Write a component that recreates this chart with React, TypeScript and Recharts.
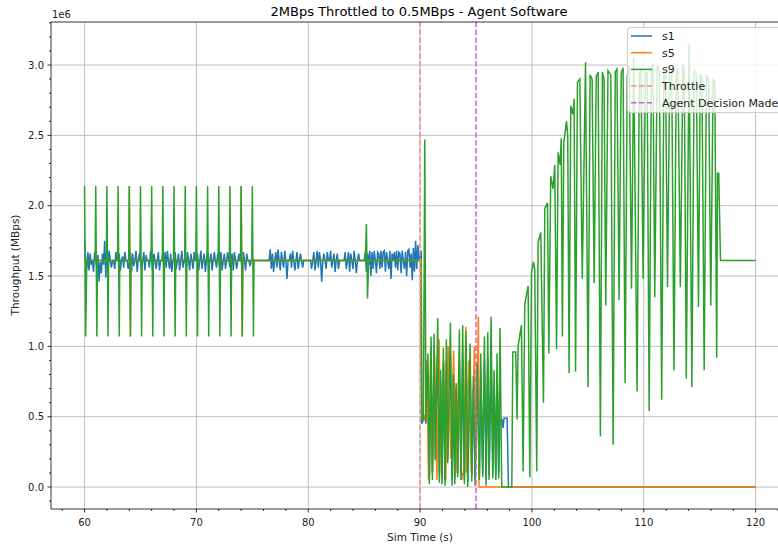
import { Line, LineChart, ReferenceLine, XAxis, YAxis } from "recharts";

// values are in units of 1e6 (axis offset label "1e6")
const xTicks = [58, 60, 62, 64, 66, 68, 70, 72, 74, 76, 78, 80, 82, 84, 86, 88, 90, 92, 94, 96, 98, 100, 102, 104, 106, 108, 110, 112, 114, 116, 118, 120, 122];
const yTicks = [-0.1, 0, 0.1, 0.2, 0.3, 0.4, 0.5, 0.6, 0.7, 0.8, 0.9, 1.0, 1.1, 1.2, 1.3, 1.4, 1.5, 1.6, 1.7, 1.8, 1.9, 2.0, 2.1, 2.2, 2.3, 2.4, 2.5, 2.6, 2.7, 2.8, 2.9, 3.0, 3.1, 3.2, 3.3];
const xMajor = [60, 70, 80, 90, 100, 110, 120];
const yMajor = [0, 0.5, 1.0, 1.5, 2.0, 2.5, 3.0];

const throttleAt = 90;
const agentAt = 95;

// s1: noisy samples every 0.1 s
const s1NoiseA = [
  1.76, 1.61, 1.55, 1.67, 1.54, 1.66, 1.58, 1.61, 1.53, 1.67,
  1.61, 1.56, 1.65, 1.46, 1.6, 1.52, 1.66, 1.58, 1.75, 1.49,
  1.72, 1.55, 1.68, 1.61, 1.56, 1.61, 1.61, 1.55, 1.67, 1.61,
  1.61, 1.66, 1.54, 1.61, 1.64, 1.56, 1.67, 1.61, 1.61, 1.55,
  1.61, 1.67, 1.53, 1.66, 1.57, 1.61, 1.68, 1.53, 1.61, 1.66,
  1.61, 1.55, 1.61, 1.67, 1.54, 1.65, 1.61, 1.61, 1.56, 1.68,
  1.61, 1.53, 1.66, 1.61, 1.55, 1.61, 1.67, 1.54, 1.61, 1.61,
  1.66, 1.54, 1.67, 1.56, 1.68, 1.61, 1.55, 1.66, 1.53, 1.61,
  1.61, 1.67, 1.55, 1.61, 1.66, 1.54, 1.61, 1.68, 1.56, 1.61,
  1.61, 1.56, 1.67, 1.61, 1.54, 1.66, 1.61, 1.55, 1.67, 1.61,
  1.61, 1.66, 1.54, 1.61, 1.68, 1.55, 1.61, 1.66, 1.53, 1.61,
  1.67, 1.55, 1.61, 1.66, 1.54, 1.61, 1.67, 1.61, 1.56, 1.66,
  1.61, 1.55, 1.67, 1.54, 1.61, 1.66, 1.55, 1.61, 1.67, 1.61,
  1.56, 1.61, 1.66, 1.54, 1.67, 1.61, 1.55, 1.61, 1.66, 1.61,
  1.61, 1.55, 1.67, 1.61, 1.54, 1.66, 1.61, 1.61, 1.57, 1.61, 1.61,
];
const s1NoiseB = [
  1.61, 1.69, 1.55, 1.66, 1.53, 1.61, 1.67, 1.56, 1.69, 1.61,
  1.54, 1.67, 1.61, 1.56, 1.68, 1.61, 1.48, 1.61, 1.61, 1.66,
  1.56, 1.68, 1.61, 1.54, 1.61, 1.67, 1.55, 1.61, 1.66, 1.61,
  1.56, 1.61, 1.61, 1.61, 1.61, 1.61, 1.61, 1.61, 1.55, 1.61,
  1.67, 1.54, 1.61, 1.68, 1.56, 1.67, 1.61, 1.46, 1.61, 1.66,
  1.61, 1.55, 1.67, 1.61, 1.61, 1.68, 1.56, 1.61, 1.66, 1.53,
  1.61, 1.66, 1.55, 1.61, 1.61, 1.61, 1.61, 1.61, 1.67, 1.55,
  1.61, 1.67, 1.53, 1.66, 1.61, 1.55, 1.68, 1.61, 1.52, 1.61,
  1.66, 1.61, 1.61, 1.61, 1.61, 1.61, 1.67, 1.53, 1.66, 1.58,
  1.68, 1.5, 1.67, 1.55, 1.68, 1.61, 1.52, 1.67, 1.66, 1.55,
  1.68, 1.56, 1.67, 1.68, 1.53, 1.67, 1.61, 1.55, 1.68, 1.48,
  1.66, 1.61, 1.67, 1.56, 1.68, 1.54, 1.67, 1.66, 1.52, 1.68,
  1.61, 1.55, 1.67, 1.5, 1.68, 1.69, 1.56, 1.66, 1.47, 1.7,
  1.53, 1.75, 1.55, 1.72, 1.61, 1.65,
];
const s1After: [number, number][] = [
  [90.1, 1.68], [90.15, 0.45], [90.3, 0.48], [90.42, 0.5], [90.52, 0.45],
  [90.7, 0.82], [90.83, 0.08], [90.98, 0.9], [91.1, 0.1], [91.25, 0.85], [91.37, 0.2],
  [91.58, 0.95], [91.72, 0.08], [91.84, 0.75], [91.96, 0.06], [92.08, 0.88], [92.23, 0.05],
  [92.35, 0.9], [92.47, 0.2], [92.71, 0.95], [92.86, 0.05], [92.98, 0.72], [93.1, 0.06],
  [93.22, 0.7], [93.36, 0.1], [93.51, 0.9], [93.66, 0.08], [93.81, 0.92], [93.96, 0.05],
  [94.11, 0.9], [94.26, 0.04], [94.47, 0.88], [94.62, 0.08], [94.77, 0.7], [94.92, 0.05],
  [95.1, 0.78], [95.3, 0.08], [95.42, 0.82], [95.6, 0.1], [95.75, 0.9], [95.9, 0.05],
  [96.05, 0.92], [96.17, 0.08], [96.35, 0.95], [96.5, 0.1], [96.62, 0.72], [96.77, 0.08],
  [96.88, 0.8], [97.03, 0.1], [97.15, 0.48], [97.3, 0.48], [97.42, 0.42], [97.5, 0.49],
  [97.78, 0.49], [97.9, 0], [120, 0],
];

const s5Raw: [number, number][] = [
  [60, 1.61], [63.95, 1.61], [64, 2.14], [64.1, 1.07], [64.15, 1.61],
  [73.95, 1.61], [74, 2.14], [74.1, 1.07], [74.15, 1.61], [90.1, 1.61],
  [90.15, 0.47], [90.3, 0.52], [90.5, 0.48], [90.6, 0.9], [90.75, 0.05], [90.95, 1.0],
  [91.1, 0.1], [91.3, 0.95], [91.5, 0.05], [91.7, 1.05], [91.9, 0.1], [92.1, 0.9],
  [92.3, 0.05], [92.5, 1.0], [92.75, 0.2], [93.0, 0.97], [93.2, 0.1], [93.45, 0.85],
  [93.7, 0.05], [93.93, 0.13], [94.08, 1.14], [94.12, 0.1], [94.35, 0.9], [94.6, 0.1],
  [94.85, 1.0], [95.0, 0.2], [95.21, 1.21], [95.27, 0], [120, 0],
];

const s9Raw: [number, number][] = [
  [60.0, 2.14], [60.1, 1.07], [60.2, 1.61],
  [60.95, 1.61], [61.0, 2.14], [61.1, 1.07], [61.15, 1.61],
  [61.95, 1.61], [62.0, 2.14], [62.1, 1.07], [62.15, 1.61],
  [62.95, 1.61], [63.0, 2.14], [63.1, 1.07], [63.15, 1.61],
  [63.95, 1.61], [64.0, 2.14], [64.1, 1.07], [64.15, 1.61],
  [64.95, 1.61], [65.0, 2.14], [65.1, 1.07], [65.15, 1.61],
  [65.95, 1.61], [66.0, 2.14], [66.1, 1.07], [66.15, 1.61],
  [66.95, 1.61], [67.0, 2.14], [67.1, 1.07], [67.15, 1.61],
  [67.95, 1.61], [68.0, 2.14], [68.1, 1.07], [68.15, 1.61],
  [68.95, 1.61], [69.0, 2.14], [69.1, 1.07], [69.15, 1.61],
  [69.95, 1.61], [70.0, 2.14], [70.1, 1.07], [70.15, 1.61],
  [70.95, 1.61], [71.0, 2.14], [71.1, 1.07], [71.15, 1.61],
  [71.95, 1.61], [72.0, 2.14], [72.1, 1.07], [72.15, 1.61],
  [72.95, 1.61], [73.0, 2.14], [73.1, 1.07], [73.15, 1.61],
  [73.95, 1.61], [74.0, 2.14], [74.1, 1.07], [74.15, 1.61],
  [74.95, 1.61], [75.0, 2.14], [75.1, 1.07], [75.15, 1.61],
  [85.1, 1.61], [85.2, 1.87], [85.3, 1.34], [85.4, 1.61],
  [90.05, 1.61], [90.15, 0.47], [90.3, 0.5], [90.42, 2.47], [90.52, 0.47],
  [90.7, 0.95], [90.83, 0.02], [90.98, 1.07], [91.1, 0.05], [91.25, 1.09], [91.37, 0.19],
  [91.58, 1.2], [91.72, 0.03], [91.84, 0.83], [91.96, 0.02], [92.08, 0.99], [92.23, 0.01],
  [92.35, 1.05], [92.47, 0.17], [92.71, 1.17], [92.86, 0.01], [92.98, 0.8], [93.1, 0.02],
  [93.22, 0.74], [93.36, 0.07], [93.51, 1.12], [93.66, 0.05], [93.81, 1.15], [93.96, 0.02],
  [94.11, 1.11], [94.26, 0], [94.47, 1.02], [94.62, 0.04], [94.77, 0.79], [94.92, 0.01],
  [95.1, 0.88], [95.3, 0.05], [95.42, 0.95], [95.6, 0.07], [95.75, 1.07], [95.9, 0.01],
  [96.05, 1.1], [96.17, 0.05], [96.35, 1.21], [96.5, 0.06], [96.62, 0.83], [96.77, 0.05],
  [96.88, 0.95], [97.03, 0.06], [97.15, 1.13], [97.3, 0],
  [98.2, 0], [98.29, 0.96], [98.55, 0.96], [98.67, 0.48], [98.76, 1.0], [99.06, 1.15],
  [99.21, 0.11], [99.36, 1.3], [99.66, 1.43], [99.81, 0.07], [99.96, 1.52], [100.13, 1.6],
  [100.25, 1.55], [100.43, 0.11], [100.55, 1.74], [100.79, 1.81], [101.03, 0.6], [101.15, 1.98],
  [101.39, 2.02], [101.51, 0.95], [101.68, 2.21], [101.89, 2.12], [102.04, 2.29], [102.2, 0.98],
  [102.34, 2.38], [102.52, 2.29], [102.62, 2.48], [102.72, 1.07], [102.85, 2.45], [103.09, 2.6],
  [103.2, 2.5], [103.32, 0.81], [103.47, 2.71], [103.65, 2.65], [103.77, 2.76], [103.9, 0.82],
  [104.07, 2.88], [104.28, 2.9], [104.5, 1.48], [104.79, 3.02], [105.02, 0.71], [105.2, 2.93],
  [105.38, 2.9], [105.56, 1.45], [105.75, 2.92], [105.92, 2.95], [106.12, 0.36], [106.3, 2.95],
  [106.45, 2.9], [106.6, 1.29], [106.8, 2.96], [107.05, 2.93], [107.26, 0.3], [107.45, 2.95],
  [107.6, 2.97], [107.79, 1.33], [107.98, 2.94], [108.15, 2.98], [108.33, 0.74], [108.52, 2.92],
  [108.7, 2.99], [108.9, 1.41], [109.1, 3.05], [109.4, 0.68], [109.6, 2.94], [109.75, 2.96],
  [109.94, 1.48], [110.15, 2.95], [110.3, 2.94], [110.48, 0.54], [110.68, 2.97], [110.82, 3.01],
  [110.98, 1.35], [111.2, 3.0], [111.4, 2.95], [111.6, 0.62], [111.8, 2.96], [111.95, 2.93],
  [112.12, 1.42], [112.32, 2.97], [112.5, 2.94], [112.7, 0.83], [112.9, 2.92], [113.05, 2.98],
  [113.27, 1.42], [113.5, 3.0], [113.62, 2.95], [113.8, 0.77], [114.05, 3.15], [114.3, 0.71],
  [114.5, 2.96], [114.7, 2.94], [114.89, 1.28], [115.05, 2.93], [115.2, 2.92], [115.4, 0.83],
  [115.6, 2.92], [115.8, 2.9], [115.99, 1.29], [116.2, 2.9], [116.35, 2.88], [116.52, 0.92],
  [116.59, 2.23], [116.7, 2.23], [116.86, 1.61], [120, 1.61],
];

const toPts = (arr: [number, number][]) => arr.map(([t, v]) => ({ t, v }));
const fromSamples = (start: number, vals: number[]) =>
  vals.map((v, i) => ({ t: Math.round((start + i * 0.1) * 100) / 100, v }));

const s1 = [
  ...fromSamples(60, s1NoiseA),
  { t: 76.4, v: 1.61 },
  ...fromSamples(76.5, s1NoiseB),
  ...toPts(s1After),
];
const s5 = toPts(s5Raw);
const s9 = toPts(s9Raw);

const series = [
  { name: "s1", data: s1, color: "#1f77b4" },
  { name: "s5", data: s5, color: "#ff7f0e" },
  { name: "s9", data: s9, color: "#2ca02c" },
];
const markers = [
  { name: "Throttle", x: throttleAt, color: "#ee8f8f" },
  { name: "Agent Decision Made", x: agentAt, color: "#d65cd6" },
];

const font = "DejaVu Sans, sans-serif";
const isMajor = (v: number, step: number) => Math.abs(v / step - Math.round(v / step)) < 1e-6;

const XTick = (props: any) => {
  const { x, y, payload } = props;
  const major = isMajor(payload.value, 10);
  return (
    <g>
      <line x1={x} x2={x} y1={y} y2={y + (major ? 3.5 : 2)} stroke="#000" strokeWidth={0.8} />
      {major && (
        <text x={x} y={y + 17} textAnchor="middle" fontSize={10} fontFamily={font} fill="#222">
          {payload.value}
        </text>
      )}
    </g>
  );
};

const YTick = (props: any) => {
  const { x, y, payload } = props;
  const major = isMajor(payload.value, 0.5);
  return (
    <g>
      <line x1={x - (major ? 3.5 : 2)} x2={x} y1={y} y2={y} stroke="#000" strokeWidth={0.8} />
      {major && (
        <text x={x - 7} y={y + 3.6} textAnchor="end" fontSize={10} fontFamily={font} fill="#222">
          {payload.value.toFixed(1)}
        </text>
      )}
    </g>
  );
};

export default function App() {
  return (
    <div style={{ position: "fixed", left: 0, top: 0, width: 778, height: 546, overflow: "hidden", background: "#fff" }}>
      <LineChart width={778} height={546} margin={{ top: 22, right: 0, bottom: 0, left: 0 }}>
        <XAxis
          type="number"
          dataKey="t"
          domain={[57, 122]}
          ticks={xTicks}
          interval={0}
          tick={<XTick />}
          tickLine={false}
          tickSize={0}
          tickMargin={0}
          height={37}
          allowDataOverflow
          axisLine={{ stroke: "#000", strokeWidth: 0.8 }}
        />
        <YAxis
          type="number"
          dataKey="v"
          domain={[-0.156, 3.306]}
          ticks={yTicks}
          interval={0}
          tick={<YTick />}
          tickLine={false}
          tickSize={0}
          tickMargin={0}
          width={51}
          allowDataOverflow
          axisLine={{ stroke: "#000", strokeWidth: 0.8 }}
        />
        {xMajor.map((v) => (
          <ReferenceLine key={"gx" + v} x={v} stroke="#b0b0b0" strokeWidth={0.8} />
        ))}
        {yMajor.map((v) => (
          <ReferenceLine key={"gy" + v} y={v} stroke="#b0b0b0" strokeWidth={0.8} />
        ))}
        {series.map((s) => (
          <Line
            key={s.name}
            data={s.data}
            dataKey="v"
            name={s.name}
            type="linear"
            stroke={s.color}
            strokeWidth={1.5}
            dot={false}
            isAnimationActive={false}
          />
        ))}
        {markers.map((m) => (
          <ReferenceLine key={m.name} x={m.x} stroke={m.color} strokeWidth={1.5} strokeDasharray="5.5 2.4" />
        ))}
        <ReferenceLine y={3.306} stroke="#000" strokeWidth={0.8} />
      </LineChart>
      <svg width={778} height={546} style={{ position: "absolute", left: 0, top: 0, pointerEvents: "none" }}>
        <text x={419} y={16} textAnchor="middle" fontSize={13} fontFamily={font} fill="#000">
          2MBps Throttled to 0.5MBps - Agent Software
        </text>
        <text x={52} y={18} fontSize={10} fontFamily={font} fill="#222">1e6</text>
        <text x={420} y={541} textAnchor="middle" fontSize={10.5} fontFamily={font} fill="#222">Sim Time (s)</text>
        <text
          x={19}
          y={265}
          textAnchor="middle"
          fontSize={10.5}
          fontFamily={font}
          fill="#222"
          transform="rotate(-90 19 265)"
        >
          Throughput (MBps)
        </text>
        <g transform="translate(627,27)">
          <rect x={0.5} y={0.5} width={200} height={85} rx={3} fill="#fff" fillOpacity={0.8} stroke="#cccccc" />
          {series.map((s, i) => (
            <g key={s.name} transform={`translate(0,${9 + i * 16.7})`}>
              <line x1={4} x2={25} y1={0} y2={0} stroke={s.color} strokeWidth={1.5} />
              <text x={35} y={4} fontSize={11} fontFamily={font} fill="#222">{s.name}</text>
            </g>
          ))}
          {markers.map((m, i) => (
            <g key={m.name} transform={`translate(0,${9 + (i + 3) * 16.7})`}>
              <line x1={4} x2={25} y1={0} y2={0} stroke={m.color} strokeWidth={1.5} strokeDasharray="5.5 2.4" />
              <text x={35} y={4} fontSize={11} fontFamily={font} fill="#222">{m.name}</text>
            </g>
          ))}
        </g>
      </svg>
    </div>
  );
}
